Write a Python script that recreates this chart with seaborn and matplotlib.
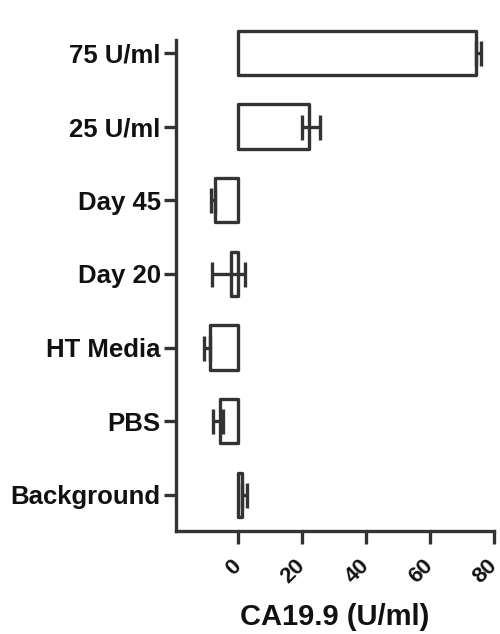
import matplotlib
matplotlib.use("Agg")
import matplotlib.pyplot as plt
import seaborn as sns
import pandas as pd

# values
groups = ["75 U/ml", "25 U/ml", "Day 45", "Day 20", "HT Media", "PBS", "Background"]
means = [74.5, 22.0, -7.2, -2.4, -9.0, -5.6, 1.2]
err_low = [0.0, 2.0, 1.3, 5.8, 1.6, 2.3, 0.0]
err_high = [1.5, 3.5, 0.0, 4.6, 0.0, 0.8, 1.4]
xticks = [0, 20, 40, 60, 80]

sns.set_style("ticks")
plt.rcParams["font.family"] = ["Liberation Sans", "DejaVu Sans"]
plt.rcParams["font.weight"] = "bold"

ink = "#333333"
df = pd.DataFrame({"group": groups, "mean": means})

fig = plt.figure(figsize=(5, 6.34), dpi=100)
ax = fig.add_axes([0.352, 0.1625, 0.636, 0.775])
sns.barplot(data=df, x="mean", y="group", order=groups, orient="h", color="white",
            edgecolor=ink, linewidth=2.4, width=0.6, errorbar=None, ax=ax)
for p in ax.patches:
    p.set_joinstyle("round")
    p.set_clip_on(False)
eb = ax.errorbar(means, range(len(groups)), xerr=[err_low, err_high], fmt="none",
                 ecolor=ink, elinewidth=2.4, capsize=9, capthick=2.4, zorder=3)
for art in eb.lines[1] + eb.lines[2]:
    art.set_clip_on(False)

ax.set_xlim(-19.5, 80)
ax.set_ylim(6.49, -0.18)
ax.set_xticks(xticks)
ax.set_xticklabels([str(t) for t in xticks], rotation=45, ha="right", va="center",
                   rotation_mode="anchor", fontsize=16, fontweight="bold", color="#111111")
ax.set_yticks(range(len(groups)))
ax.set_yticklabels(groups, fontsize=18.5, fontweight="bold", color="#111111")
ax.tick_params(axis="x", length=9, width=2.4, color=ink, pad=14)
ax.tick_params(axis="y", length=9, width=2.4, color=ink, pad=2)
ax.set_ylabel("")
ax.set_xlabel("CA19.9 (U/ml)", fontsize=21, fontweight="bold", color="#111111", labelpad=11)

sns.despine(ax=ax)
for side in ["left", "bottom"]:
    ax.spines[side].set_linewidth(2.4)
    ax.spines[side].set_color(ink)

fig.savefig("out.png", dpi=100)
